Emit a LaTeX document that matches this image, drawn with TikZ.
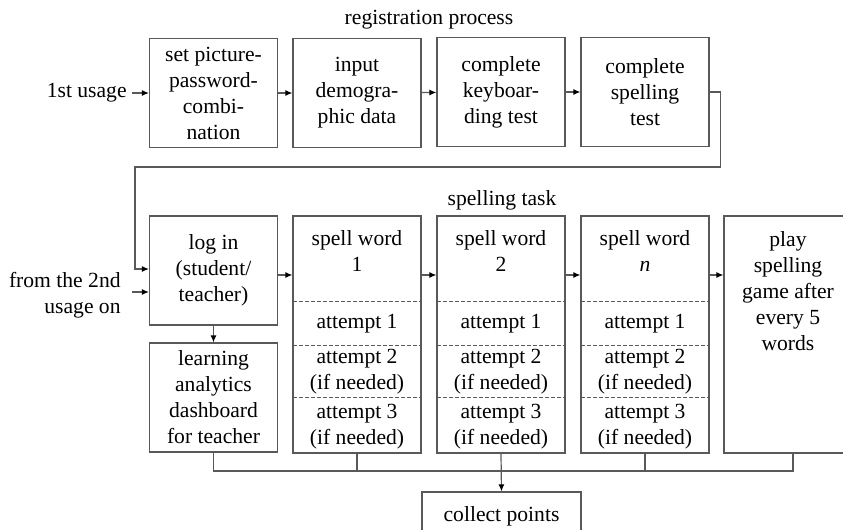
\documentclass[tikz,border=0pt]{standalone}
\usepackage{fontspec}
\setmainfont{Liberation Serif}
\usetikzlibrary{arrows.meta,positioning}

\tikzset{
  every node/.style={inner sep=0pt,font=\fontsize{10.8}{13}\selectfont,align=center},
  box/.style={draw=black!65,line width=0.6pt,minimum width=64pt,minimum height=54.5pt},
  wordcol/.style={draw=black!65,line width=0.6pt,minimum width=64pt,minimum height=118.5pt},
  conn/.style={draw=black!65,line width=0.6pt},
  arr/.style={conn,-{Latex[length=3.5pt,width=3pt,black]}},
  sep/.style={draw=black!65,line width=0.5pt,dash pattern=on 2pt off 1pt}
}

\begin{document}
\begin{tikzpicture}[x=0.5pt,y=-0.5pt]
\useasboundingbox (0,0) rectangle (843,530);

% registration process
\node (regtitle) at (429,20) {registration process};
\node[box] (picpw) at (213.5,93) {set picture-\\password-\\combi-\\nation};
\node[box] (demo) at (357,93) {input\\demogra-\\phic data};
\node[box] (keyb) at (501,92) {complete\\keyboar-\\ding test};
\node[box] (spelltest) at (645,92) {complete\\spelling\\test};
\node[anchor=east] (first) at (127,93) {1st usage};

\draw[arr] ([xshift=2.5pt]first.east) -- (picpw.west);
\draw[arr] (picpw) -- (demo);
\draw[arr] (demo) -- (keyb);
\draw[arr] (keyb) -- (spelltest);

% spelling task
\node (tasktitle) at (502,200) {spelling task};
\node[box] (login) at (213.5,270.5) {log in\\(student/\\teacher)};
\node[box] (dash) at (213.5,397.5) {learning\\analytics\\dashboard\\for teacher};
\node[anchor=east,align=right] (second) at (121,295) {from the 2nd\\usage on};

\coordinate (loop) at (135,167);
\coordinate (row) at (0,275);
\coordinate (bus) at (0,471);

\draw[arr] (spelltest.east) -- ++(11,0) |- (loop) |- ([yshift=0.75pt]login.west);
\draw[arr] ([xshift=5.5pt,yshift=1.5pt]second.east) -- ([yshift=-10.75pt]login.west);
\draw[arr] (login) -- (dash);

\foreach \nm/\cx/\wnum in {wa/357/1, wb/501/2, wn/645/{\textit{n}}} {
  \node[wordcol] (\nm) at (\cx,334.5) {};
  \node (\nm-h) at (\cx,251) {spell word\\\wnum};
  \node (\nm-a) at (\cx,324) {attempt 1};
  \node (\nm-b) at (\cx,372) {attempt 2\\(if needed)};
  \node (\nm-c) at (\cx,426.5) {attempt 3\\(if needed)};
  \draw[sep] (\cx-64,301) -- (\cx+64,301);
  \draw[sep] (\cx-64,345) -- (\cx+64,345);
  \draw[sep] (\cx-64,397) -- (\cx+64,397);
}

\node[wordcol] (play) at (788,334.5) {};
\node (playtxt) at (788,291) {play\\spelling\\game after\\every 5\\words};

\draw[arr] (login.east |- row) -- (wa.west |- row);
\draw[arr] (wa.east |- row) -- (wb.west |- row);
\draw[arr] (wb.east |- row) -- (wn.west |- row);
\draw[arr] (wn.east |- row) -- (play.west |- row);

% points
\node[draw=black!65,line width=0.6pt,minimum width=79.5pt,minimum height=24pt] (points) at (501.5,516) {collect points};
\coordinate (pl) at ([xshift=2.5pt]play.south);
\draw[conn] (dash.south) |- (pl |- bus) -- (pl);
\draw[conn] (wa.south) -- (wa.south |- bus);
\draw[conn] (wn.south) -- (wn.south |- bus);
\draw[arr] (wb.south) -- (points.north);
\end{tikzpicture}
\end{document}
